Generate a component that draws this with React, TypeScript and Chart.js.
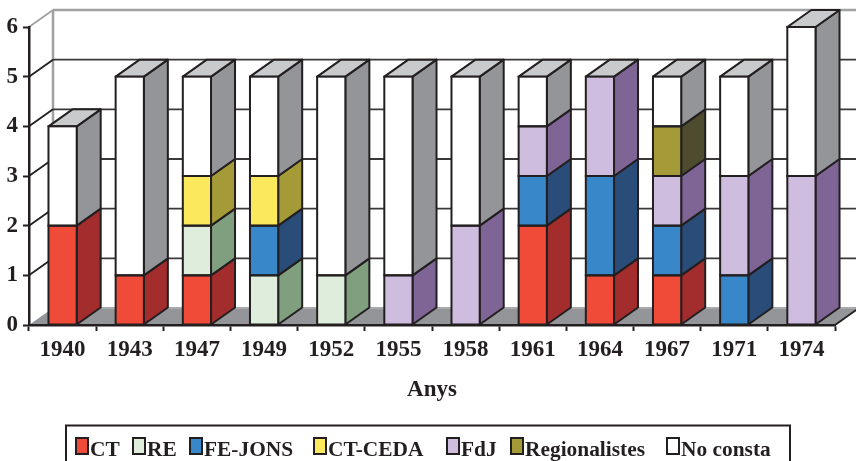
import React, { useEffect, useRef } from "react";
import { Chart, registerables } from "chart.js";

Chart.register(...registerables);

const years = ["1940", "1943", "1947", "1949", "1952", "1955", "1958", "1961", "1964", "1967", "1971", "1974"];
const ct = [2, 1, 1, 0, 0, 0, 0, 2, 1, 1, 0, 0];
const re = [0, 0, 1, 1, 1, 0, 0, 0, 0, 0, 0, 0];
const feJons = [0, 0, 0, 1, 0, 0, 0, 1, 2, 1, 1, 0];
const ctCeda = [0, 0, 1, 1, 0, 0, 0, 0, 0, 0, 0, 0];
const fdj = [0, 0, 0, 0, 0, 1, 2, 1, 2, 1, 2, 3];
const regionalistes = [0, 0, 0, 0, 0, 0, 0, 0, 0, 1, 0, 0];
const noConsta = [2, 4, 2, 2, 4, 4, 3, 1, 0, 1, 2, 3];

const seriesNames = ["CT", "RE", "FE-JONS", "CT-CEDA", "FdJ", "Regionalistes", "No consta"];
const seriesValues = [ct, re, feJons, ctCeda, fdj, regionalistes, noConsta];
const frontColors = ["#F04A38", "#DFEEDC", "#3887C8", "#FBE85C", "#CFBDDF", "#A59A38", "#FFFFFF"];
const sideColors = ["#A32C2D", "#7F9F7F", "#2A4C78", "#A59A38", "#7F6496", "#4E4B2E", "#939598"];
const topColor = "#C8CACC";
const ink = "#231F20";
const wallGrey = "#A0A1A3";
const floorGrey = "#939598";
const serif = "'Liberation Serif'";

const DEPTH_X = 24;
const DEPTH_Y = 17;
const legendSwatchX = [76, 133, 190, 314, 447, 511, 667];

function poly(ctx: CanvasRenderingContext2D, pts: number[][], fill: string | null, stroke: string | null, lw = 2) {
  ctx.beginPath();
  pts.forEach((p, i) => (i ? ctx.lineTo(p[0], p[1]) : ctx.moveTo(p[0], p[1])));
  ctx.closePath();
  if (fill) {
    ctx.fillStyle = fill;
    ctx.fill();
  }
  if (stroke) {
    ctx.strokeStyle = stroke;
    ctx.lineWidth = lw;
    ctx.lineJoin = "round";
    ctx.stroke();
  }
}

function line(ctx: CanvasRenderingContext2D, x1: number, y1: number, x2: number, y2: number, c: string, lw: number) {
  ctx.beginPath();
  ctx.moveTo(x1, y1);
  ctx.lineTo(x2, y2);
  ctx.strokeStyle = c;
  ctx.lineWidth = lw;
  ctx.stroke();
}

const wallsPlugin = {
  id: "walls",
  beforeDraw(chart: any) {
    const { ctx, chartArea: a, scales } = chart;
    const y = scales.y;
    ctx.save();
    poly(
      ctx,
      [
        [a.left, a.bottom],
        [a.left + DEPTH_X, a.bottom - DEPTH_Y],
        [a.right + DEPTH_X, a.bottom - DEPTH_Y],
        [a.right, a.bottom],
      ],
      floorGrey,
      null
    );
    line(ctx, a.left + DEPTH_X, a.bottom - DEPTH_Y, a.right + DEPTH_X, a.bottom - DEPTH_Y, "#A9AAAC", 2);
    line(ctx, a.left + DEPTH_X, y.getPixelForValue(6) - DEPTH_Y, a.left + DEPTH_X, a.bottom - DEPTH_Y, wallGrey, 2.5);
    for (let v = 1; v <= 6; v++) {
      const py = y.getPixelForValue(v);
      const c = v === 6 ? wallGrey : ink;
      line(ctx, a.left + DEPTH_X, py - DEPTH_Y, a.right + DEPTH_X, py - DEPTH_Y, v === 6 ? wallGrey : "#3A3839", v === 6 ? 2.5 : 1.8);
      line(ctx, a.left, py, a.left + DEPTH_X, py - DEPTH_Y, c, 1.8);
    }
    line(ctx, a.right, a.bottom, a.right + DEPTH_X, a.bottom - DEPTH_Y, ink, 2);
    ctx.restore();
  },
};

const depthPlugin = {
  id: "depth",
  beforeDatasetsDraw(chart: any) {
    const { ctx } = chart;
    ctx.save();
    years.forEach((_, i) => {
      let topEl: any = null;
      seriesValues.forEach((vals, d) => {
        if (!vals[i]) return;
        const el = chart.getDatasetMeta(d).data[i];
        const r = el.x + el.width / 2;
        poly(
          ctx,
          [
            [r, el.y],
            [r + DEPTH_X, el.y - DEPTH_Y],
            [r + DEPTH_X, el.base - DEPTH_Y],
            [r, el.base],
          ],
          sideColors[d],
          ink
        );
        topEl = el;
      });
      if (topEl) {
        const l = topEl.x - topEl.width / 2;
        const r = topEl.x + topEl.width / 2;
        poly(
          ctx,
          [
            [l, topEl.y],
            [l + DEPTH_X, topEl.y - DEPTH_Y],
            [r + DEPTH_X, topEl.y - DEPTH_Y],
            [r, topEl.y],
          ],
          topColor,
          ink
        );
      }
    });
    ctx.restore();
  },
  afterDatasetsDraw(chart: any) {
    const { ctx } = chart;
    ctx.save();
    ctx.strokeStyle = ink;
    ctx.lineWidth = 2;
    years.forEach((_, i) => {
      seriesValues.forEach((vals, d) => {
        if (!vals[i]) return;
        const el = chart.getDatasetMeta(d).data[i];
        ctx.strokeRect(el.x - el.width / 2, el.y, el.width, el.base - el.y);
      });
    });
    ctx.restore();
  },
};

const legendPlugin = {
  id: "boxLegend",
  afterDraw(chart: any) {
    const { ctx } = chart;
    ctx.save();
    ctx.strokeStyle = ink;
    ctx.lineWidth = 2;
    ctx.strokeRect(66, 425.5, 724, 40);
    ctx.font = `bold 21.4px ${serif}`;
    ctx.textBaseline = "alphabetic";
    ctx.textAlign = "left";
    chart.data.datasets.forEach((ds: any, i: number) => {
      const x = legendSwatchX[i];
      ctx.fillStyle = ds.backgroundColor;
      ctx.fillRect(x, 438, 12, 16);
      ctx.lineWidth = 2;
      ctx.strokeStyle = ink;
      ctx.strokeRect(x, 438, 12, 16);
      ctx.fillStyle = ink;
      ctx.fillText(ds.label, x + 14, 456);
    });
    ctx.restore();
  },
};

export default function App() {
  const ref = useRef<HTMLCanvasElement>(null);
  useEffect(() => {
    const chart = new Chart(ref.current as HTMLCanvasElement, {
      type: "bar",
      data: {
        labels: years,
        datasets: seriesNames.map((label, i) => ({
          label,
          data: seriesValues[i],
          backgroundColor: frontColors[i],
          borderWidth: 0,
          clip: false,
          barPercentage: 0.42,
          categoryPercentage: 1,
        })),
      } as any,
      options: {
        responsive: false,
        animation: false,
        layout: { padding: { top: 27, right: 21, left: 0, bottom: 0 } },
        plugins: { legend: { display: false }, tooltip: { enabled: false } },
        scales: {
          x: {
            stacked: true,
            afterFit: (s: any) => {
              s.height = 136;
            },
            border: { color: ink, width: 2.5 },
            grid: { drawOnChartArea: false, drawTicks: true, tickLength: 6, tickColor: ink, tickWidth: 2 },
            ticks: { color: ink, font: { family: serif, weight: "bold", size: 23 }, padding: 5, maxRotation: 0 },
            title: {
              display: true,
              text: "Anys",
              color: ink,
              font: { family: serif, weight: "bold", size: 23 },
              padding: { top: 0, bottom: 57 },
            },
          },
          y: {
            stacked: true,
            min: 0,
            max: 6,
            afterFit: (s: any) => {
              s.width = 29;
            },
            border: { color: ink, width: 2.5 },
            grid: { drawOnChartArea: false, drawTicks: true, tickLength: 6, tickColor: ink, tickWidth: 2 },
            ticks: { stepSize: 1, color: ink, font: { family: serif, weight: "bold", size: 23 }, padding: 5 },
          },
        },
      } as any,
      plugins: [wallsPlugin, depthPlugin, legendPlugin],
    });
    return () => chart.destroy();
  }, []);
  return (
    <div style={{ position: "fixed", left: 0, top: 0, width: 856, height: 461, overflow: "hidden", background: "#fff" }}>
      <canvas ref={ref} width={856} height={461} style={{ display: "block" }} />
    </div>
  );
}
